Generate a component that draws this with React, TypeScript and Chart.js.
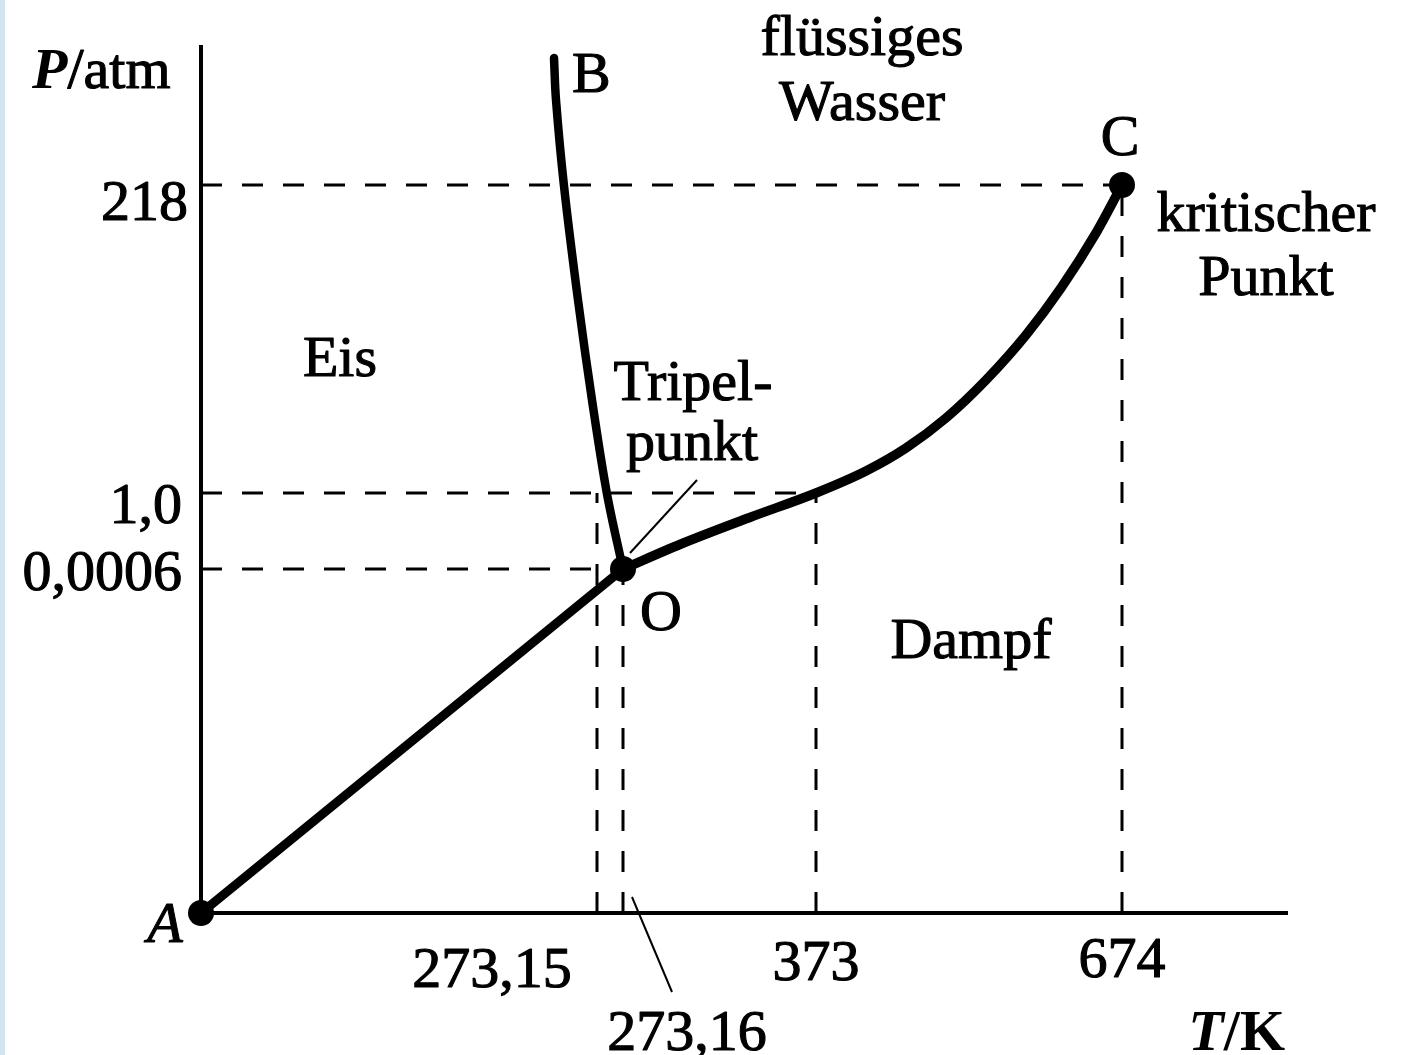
import React, { useEffect, useRef } from "react";
import { Chart, registerables } from "chart.js";

Chart.register(...registerables);

// Schematic diagram units (the original is not drawn to scale)
const X_MAX = 108.7;
const Y_MAX = 86.8;

// Tick positions (diagram units) and their labels
const xTickPos = [39.6, 42.2, 61.5, 92.1];
const xTickLabels = ["273,15", "273,16", "373", "674"];
const yTickPos = [34.4, 42.0, 72.8];
const yTickLabels = ["0,0006", "1,0", "218"];

// Where each dashed guide ends
const hGuideEndX = [42.2, 61.5, 92.1];
const vGuideTopY = [42.0, 34.4, 42.0, 72.8];

// Special points
const pointNames = ["A", "O", "C"];
const pointX = [0, 42.2, 92.1];
const pointY = [0, 34.4, 72.8];

// Phase boundaries
const curveAO_x = [0, 42.2];
const curveAO_y = [0, 34.4];
const curveOB_x = [42.2, 40.6, 39.1, 37.7, 36.3, 35.5, 35.3];
const curveOB_y = [34.4, 41.9, 51.3, 61.3, 72.7, 81.3, 85.5];
const curveOC_x = [42.2, 48.0, 55.0, 61.5, 66.5, 70.5, 74.5, 78.5, 82.5, 86.0, 89.5, 92.1];
const curveOC_y = [34.4, 36.9, 39.6, 42.0, 44.2, 46.5, 49.5, 53.3, 57.8, 62.5, 68.0, 72.8];

// Leader lines
const leaderTripel_x = [42.9, 49.6];
const leaderTripel_y = [36.0, 43.3];
const leader27316_x = [43.1, 47.1];
const leader27316_y = [1.6, -7.9];

const FONT = '"Liberation Serif", "Times New Roman", serif';
const FS = 58;

type Seg = { t: string; style?: string };
type Label = { segs: Seg[]; x: number; y: number; align: "left" | "center" | "right" };

const zip = (xs: number[], ys: number[]) => xs.map((x, i) => ({ x, y: ys[i] }));

const labels: Label[] = [
  // y tick labels
  ...yTickLabels.map((t, i) => ({
    segs: [{ t }],
    x: i === 2 ? -1.3 : -1.9,
    y: yTickPos[i] + [-2.1, -3.0, -3.5][i],
    align: "right" as const,
  })),
  // x tick labels
  { segs: [{ t: xTickLabels[0] }], x: 29.1, y: -7.4, align: "center" },
  { segs: [{ t: xTickLabels[1] }], x: 48.6, y: -13.7, align: "center" },
  { segs: [{ t: xTickLabels[2] }], x: xTickPos[2], y: -6.7, align: "center" },
  { segs: [{ t: xTickLabels[3] }], x: xTickPos[3], y: -6.4, align: "center" },
  // axis titles
  { segs: [{ t: "P", style: "italic bold" }, { t: "/atm" }], x: -16.9, y: 82.5, align: "left" },
  { segs: [{ t: "T", style: "italic bold" }, { t: "/K", style: "bold" }], x: 108.4, y: -13.7, align: "right" },
  // point names
  { segs: [{ t: pointNames[0], style: "italic" }], x: -3.6, y: -2.9, align: "center" },
  { segs: [{ t: "B" }], x: 37.1, y: 82.1, align: "left" },
  { segs: [{ t: pointNames[2] }], x: 91.9, y: 75.8, align: "center" },
  { segs: [{ t: pointNames[1] }], x: 46.0, y: 28.3, align: "center" },
  // regions
  { segs: [{ t: "flüssiges" }], x: 66.1, y: 85.8, align: "center" },
  { segs: [{ t: "Wasser" }], x: 66.1, y: 79.3, align: "center" },
  { segs: [{ t: "kritischer" }], x: 106.5, y: 68.2, align: "center" },
  { segs: [{ t: "Punkt" }], x: 106.5, y: 61.8, align: "center" },
  { segs: [{ t: "Eis" }], x: 13.9, y: 53.7, align: "center" },
  { segs: [{ t: "Tripel-" }], x: 49.2, y: 51.3, align: "center" },
  { segs: [{ t: "punkt" }], x: 49.1, y: 45.3, align: "center" },
  { segs: [{ t: "Dampf" }], x: 77.0, y: 25.5, align: "center" },
];

const textPlugin = {
  id: "schematicText",
  afterDatasetsDraw(chart: any) {
    const { ctx, scales } = chart;
    const sx = scales.x;
    const sy = scales.y;
    ctx.save();
    ctx.fillStyle = "#000";
    ctx.strokeStyle = "#000";
    ctx.lineWidth = 1.1;
    ctx.lineJoin = "round";
    ctx.textBaseline = "alphabetic";
    ctx.textAlign = "left";
    for (const lb of labels) {
      const fonts = lb.segs.map((s) => `${s.style ? s.style + " " : ""}${FS}px ${FONT}`);
      const widths = lb.segs.map((s, i) => {
        ctx.font = fonts[i];
        return ctx.measureText(s.t).width;
      });
      const total = widths.reduce((a, b) => a + b, 0);
      let px = sx.getPixelForValue(lb.x);
      const py = sy.getPixelForValue(lb.y);
      if (lb.align === "center") px -= total / 2;
      else if (lb.align === "right") px -= total;
      lb.segs.forEach((s, i) => {
        ctx.font = fonts[i];
        ctx.fillText(s.t, px, py);
        if (!s.style || !s.style.includes("bold")) ctx.strokeText(s.t, px, py);
        px += widths[i];
      });
    }
    ctx.restore();
  },
};

export default function App() {
  const ref = useRef<HTMLCanvasElement | null>(null);

  useEffect(() => {
    if (!ref.current) return;
    const black = "#000";
    const dash = [21, 20];
    const base = { showLine: true, pointRadius: 0, clip: false as const, borderColor: black, backgroundColor: black };

    const datasets: any[] = [
      // special points (on top)
      {
        ...base,
        showLine: false,
        data: zip(pointX, pointY),
        pointRadius: 13,
        pointBackgroundColor: black,
        pointBorderColor: black,
        pointBorderWidth: 0,
      },
      { ...base, data: zip(curveAO_x, curveAO_y), borderWidth: 9, borderCapStyle: "round" },
      { ...base, data: zip(curveOB_x, curveOB_y), borderWidth: 8.5, tension: 0.35, borderCapStyle: "round" },
      { ...base, data: zip(curveOC_x, curveOC_y), borderWidth: 9.5, cubicInterpolationMode: "monotone", borderCapStyle: "round" },
      { ...base, data: zip(leaderTripel_x, leaderTripel_y), borderWidth: 2 },
      { ...base, data: zip(leader27316_x, leader27316_y), borderWidth: 2 },
      // axes
      { ...base, data: [{ x: 0, y: 0 }, { x: X_MAX, y: 0 }], borderWidth: 4 },
      { ...base, data: [{ x: 0, y: 0 }, { x: 0, y: Y_MAX }], borderWidth: 4 },
      // dashed guides
      ...yTickPos.map((y, i) => ({
        ...base,
        data: [{ x: 0, y }, { x: hGuideEndX[i], y }],
        borderWidth: 3,
        borderDash: dash,
      })),
      ...xTickPos.map((x, i) => ({
        ...base,
        data: [{ x, y: 0 }, { x, y: vGuideTopY[i] }],
        borderWidth: 3,
        borderDash: dash,
      })),
    ];

    const chart = new Chart(ref.current, {
      type: "scatter",
      data: { datasets },
      options: {
        animation: false,
        responsive: false,
        devicePixelRatio: 1,
        layout: { padding: { left: 201, right: 114, top: 45, bottom: 142 } },
        plugins: { legend: { display: false }, tooltip: { enabled: false }, title: { display: false } },
        scales: {
          x: { type: "linear", min: 0, max: X_MAX, display: false },
          y: { type: "linear", min: 0, max: Y_MAX, display: false },
        },
        events: [],
      },
      plugins: [textPlugin],
    });
    return () => chart.destroy();
  }, []);

  return (
    <div style={{ position: "absolute", left: 0, top: 0, width: 1402, height: 1055, background: "#fff" }}>
      <div style={{ position: "absolute", left: 0, top: 0, width: 5, height: 1055, background: "#d3e5ee" }} />
      <canvas ref={ref} width={1402} height={1055} style={{ position: "absolute", left: 0, top: 0 }} />
    </div>
  );
}
